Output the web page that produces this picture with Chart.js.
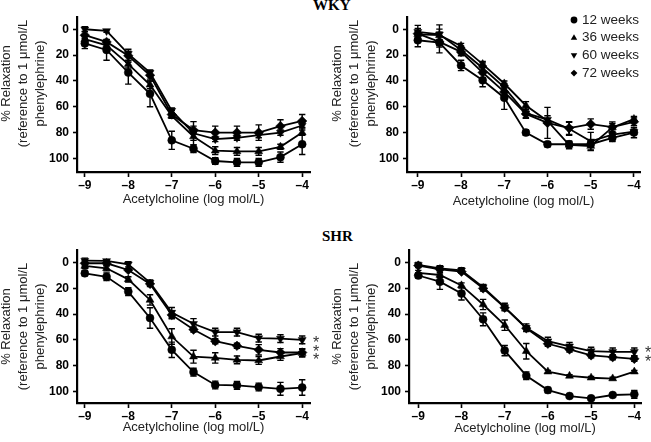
<!DOCTYPE html>
<html>
<head>
<meta charset="utf-8">
<script src="https://cdn.jsdelivr.net/npm/chart.js@4.4.1/dist/chart.umd.min.js"></script>
<style>
  html, body { margin: 0; padding: 0; background: #fff; }
  #wrap { position: relative; width: 651px; height: 442px; overflow: hidden; }
  canvas { position: absolute; }
  .head { position: absolute; font: bold 15px "Liberation Serif", "Times New Roman", serif; line-height: 15px; color: #000; }
</style>
</head>
<body>
<div id="wrap">
  <div class="head" style="left:313px; top:-2px;">WKY</div>
  <div class="head" style="left:322px; top:229px;">SHR</div>
  <canvas id="wkyA" width="325" height="220" style="left:0; top:0;"></canvas>
  <canvas id="wkyB" width="326" height="220" style="left:325px; top:0;"></canvas>
  <canvas id="shrA" width="325" height="222" style="left:0; top:220px;"></canvas>
  <canvas id="shrB" width="326" height="222" style="left:325px; top:220px;"></canvas>
</div>
<script>
// acetylcholine concentrations (log mol/L)
const logAch = [-9, -8.5, -8, -7.5, -7, -6.5, -6, -5.5, -5, -4.5, -4];
const xTicks = [-9, -8, -7, -6, -5, -4];
const yTicks = [0, 20, 40, 60, 80, 100];
const ages = ['12 weeks', '36 weeks', '60 weeks', '72 weeks'];

// WKY, left panel (% relaxation, mean and error)
const wkyA_12 = [11, 16, 33.5, 50, 86, 92.5, 102, 103, 103, 99, 89];
const wkyA_36 = [7.7, 12.4, 27, 43, 67, 83, 94, 94.5, 94.5, 91, 80];
const wkyA_60 = [0, 1.3, 19, 33.5, 63, 80.5, 85, 84, 82, 80, 74.5];
const wkyA_72 = [4.6, 9.8, 20.5, 35.6, 66, 78, 80, 80, 80, 75, 71];
const wkyA_e12 = [4, 8, 9, 10, 7, 3, 2.5, 3, 3, 4, 8];
const wkyA_e36 = [2, 2, 3, 3, 2, 3, 3, 3, 3, 2, 2];
const wkyA_e60 = [2, 1, 2, 2, 2, 9, 2, 2, 2, 2, 2];
const wkyA_e72 = [3, 2, 5, 3, 3, 3, 5, 5, 6, 5, 5];

// WKY, right panel
const wkyB_12 = [8.5, 10.3, 28, 39.5, 53, 80, 89, 89, 89, 84, 80];
const wkyB_36 = [3.9, 4.6, 12.9, 27, 42, 59, 71, 89.5, 90.4, 76, 69.5];
const wkyB_60 = [2, 3.9, 16, 30, 45, 65, 70, 77, 86.8, 81.6, 79.3];
const wkyB_72 = [3.4, 9.8, 17.5, 33.5, 48.5, 65.5, 72.5, 76.5, 73.4, 75.7, 71.6];
const wkyB_e12 = [5, 8, 4, 5, 9, 2, 2, 2, 2, 3, 4];
const wkyB_e36 = [2, 8, 2, 2, 2, 3, 2, 3, 3, 3, 2];
const wkyB_e60 = [5, 4, 3, 4, 3, 4, 3, 5, 7, 5, 2];
const wkyB_e72 = [4, 4, 3, 4, 3, 3, 12, 5, 4, 4, 3];

// SHR, left panel
const shrA_12 = [8.3, 11, 22.5, 43, 67.7, 85, 95, 95.3, 96.6, 98, 97];
const shrA_36 = [2.6, 4.4, 13, 29, 57.4, 73, 74, 75.5, 76, 72.9, 70.3];
const shrA_60 = [-1.5, -1.3, 1.3, 15.5, 38.8, 47.5, 54, 54, 58.6, 59, 60];
const shrA_72 = [0.5, 0.5, 5.7, 16.5, 40.6, 52, 61, 64.6, 67.7, 69.8, 69.8];
const shrA_e12 = [2, 3, 3, 8, 6, 3, 3, 3, 3, 5, 6];
const shrA_e36 = [2, 2, 2, 4, 6, 5, 4, 3, 3, 3, 3];
const shrA_e60 = [2, 1, 2, 2, 4, 4, 3, 3, 3, 3, 3];
const shrA_e72 = [2, 2, 1, 2, 3, 2, 2, 2, 4, 3, 3];
const shrA_stars = [59.5, 66.5, 72.5];

// SHR, right panel
const shrB_12 = [10, 14.8, 24, 44, 68.3, 87.8, 99, 103.6, 105.4, 102.8, 102.3];
const shrB_36 = [8, 9.6, 17.7, 32.5, 48.6, 68.8, 84.7, 88, 89.4, 90, 84.7];
const shrB_60 = [1.8, 4.4, 6, 19, 34.5, 50.6, 61, 65, 68.7, 69.3, 69.3];
const shrB_72 = [2.3, 5.2, 7, 20, 35, 51, 63, 67.4, 72, 73.4, 74.7];
const shrB_e12 = [2, 6, 5, 5, 4, 3, 2, 1, 1, 1, 3];
const shrB_e36 = [2, 2, 2, 4, 4, 6, 1, 1, 1, 1, 1];
const shrB_e60 = [2, 2, 2, 2, 3, 3, 3, 3, 3, 3, 3];
const shrB_e72 = [1, 1, 1, 2, 2, 2, 2, 2, 2, 2, 2];
const shrB_stars = [67, 74];
const starX = -3.68;

const FONT = "'Liberation Sans', Arial, Helvetica, sans-serif";
const markers = [
  { style: 'circle', rot: 0, r: 4 },
  { style: 'triangle', rot: 0, r: 4.6 },
  { style: 'triangle', rot: 180, r: 4.6 },
  { style: 'rectRot', rot: 0, r: 4.8 }
];
const yTitle = ['% Relaxation', '(reference to 1 \u03bcmol/L', 'phenylephrine)'];

function drawMarker(ctx, m, x, y, r) {
  ctx.beginPath();
  if (m.style === 'circle') {
    ctx.arc(x, y, r, 0, Math.PI * 2);
  } else if (m.style === 'triangle') {
    const s = m.rot ? -1 : 1;
    ctx.moveTo(x, y - s * r);
    ctx.lineTo(x + r * 0.95, y + s * r * 0.6);
    ctx.lineTo(x - r * 0.95, y + s * r * 0.6);
    ctx.closePath();
  } else {
    ctx.moveTo(x, y - r); ctx.lineTo(x + r, y); ctx.lineTo(x, y + r); ctx.lineTo(x - r, y);
    ctx.closePath();
  }
  ctx.fill();
}

const errorBars = {
  id: 'errorBars',
  beforeDatasetsDraw(chart) {
    const ctx = chart.ctx, ys = chart.scales.y;
    ctx.save();
    ctx.strokeStyle = '#000';
    ctx.lineWidth = 1.4;
    chart.data.datasets.forEach((ds, i) => {
      chart.getDatasetMeta(i).data.forEach((pt, j) => {
        const e = ds.errors[j];
        if (!e) return;
        const v = ds.data[j].y;
        const y1 = ys.getPixelForValue(v - e), y2 = ys.getPixelForValue(v + e);
        ctx.beginPath();
        ctx.moveTo(pt.x, y1); ctx.lineTo(pt.x, y2);
        ctx.moveTo(pt.x - 3.2, y1); ctx.lineTo(pt.x + 3.2, y1);
        ctx.moveTo(pt.x - 3.2, y2); ctx.lineTo(pt.x + 3.2, y2);
        ctx.stroke();
      });
    });
    ctx.restore();
  }
};

// three-line rotated y title, drawn by hand so it can sit a bit off-centre
function yTitlePlugin(lay) {
  return {
    id: 'yTitle',
    afterDraw(chart) {
      const { ctx, chartArea } = chart;
      const cy = (chartArea.top + chartArea.bottom) / 2 + lay.titleShift;
      ctx.save();
      ctx.font = '13px ' + FONT;
      ctx.fillStyle = '#222';
      ctx.textAlign = 'center';
      ctx.textBaseline = 'middle';
      yTitle.forEach((t, i) => {
        ctx.save();
        ctx.translate(lay.titleX + i * 17, cy);
        ctx.rotate(-Math.PI / 2);
        ctx.fillText(t, 0, 0);
        ctx.restore();
      });
      ctx.restore();
    }
  };
}

function ageKey() {
  return {
    id: 'ageKey',
    afterDraw(chart) {
      const { ctx, chartArea } = chart;
      ctx.save();
      ctx.font = '13.5px ' + FONT;
      ctx.textBaseline = 'middle';
      ages.forEach((a, i) => {
        const x = chartArea.right - 66, y = chartArea.top + 3 + i * 17.7;
        ctx.fillStyle = '#000';
        drawMarker(ctx, markers[i], x, y, 3.4);
        ctx.fillStyle = '#222';
        ctx.fillText(a, x + 8, y);
      });
      ctx.restore();
    }
  };
}

function starMarks(vals) {
  return {
    id: 'starMarks',
    afterDraw(chart) {
      const { ctx } = chart, xs = chart.scales.x, ys = chart.scales.y;
      ctx.save();
      ctx.font = '16px ' + FONT;
      ctx.textAlign = 'center';
      ctx.textBaseline = 'alphabetic';
      ctx.fillStyle = '#333';
      vals.forEach(v => ctx.fillText('*', xs.getPixelForValue(starX), ys.getPixelForValue(v) + 9));
      ctx.restore();
    }
  };
}

function makePanel(id, series, errors, lay, extra) {
  const datasets = series.map((vals, i) => ({
    label: ages[i],
    data: logAch.map((x, j) => ({ x, y: vals[j] })),
    errors: errors[i],
    borderColor: '#000',
    backgroundColor: '#000',
    borderWidth: 1.8,
    pointStyle: markers[i].style,
    pointRotation: markers[i].rot,
    pointRadius: markers[i].r,
    pointHoverRadius: markers[i].r,
    pointBorderWidth: 0.5,
    tension: 0,
    fill: false,
    clip: false
  }));
  const tickFont = { family: FONT, size: 12, weight: 'bold' };
  new Chart(document.getElementById(id), {
    type: 'line',
    data: { datasets },
    options: {
      responsive: false,
      animation: false,
      events: [],
      layout: { padding: { top: lay.top, right: lay.right, left: 0, bottom: 0 } },
      plugins: { legend: { display: false }, tooltip: { enabled: false } },
      scales: {
        x: {
          type: 'linear', min: lay.xMin, max: lay.xMax,
          afterBuildTicks: s => { s.ticks = xTicks.map(v => ({ value: v })); },
          ticks: { font: tickFont, color: '#000', padding: 1, maxRotation: 0, autoSkip: false,
                   callback: v => (v < 0 ? '\u2013' + Math.abs(v) : String(v)) },
          grid: { drawOnChartArea: false, tickLength: 5, tickWidth: 1.6, tickColor: '#000' },
          border: { color: '#000', width: 2.2 },
          title: { display: true, text: 'Acetylcholine (log mol/L)', color: '#222',
                   font: { family: FONT, size: 13, lineHeight: 1.2 }, padding: { top: 0, bottom: lay.xTitlePad } },
          afterFit: s => { s.height = lay.xh; }
        },
        y: {
          type: 'linear', reverse: true, min: lay.yMin, max: lay.yMax,
          afterBuildTicks: s => { s.ticks = yTicks.map(v => ({ value: v })); },
          ticks: { font: tickFont, color: '#000', padding: 4, callback: v => String(v) },
          grid: { drawOnChartArea: false, tickLength: 4, tickWidth: 1.6, tickColor: '#000' },
          border: { color: '#000', width: 2.2 },
          title: { display: false },
          afterFit: s => { s.width = lay.left; }
        }
      }
    },
    plugins: [errorBars, yTitlePlugin(lay)].concat(extra || [])
  });
}

makePanel('wkyA', [wkyA_12, wkyA_36, wkyA_60, wkyA_72], [wkyA_e12, wkyA_e36, wkyA_e60, wkyA_e72],
  { left: 77, top: 17, right: 15, xh: 48, xMin: -9.18, xMax: -3.82, yMin: -9.5, yMax: 110.5,
    xTitlePad: 12.5, titleX: 6, titleShift: -11 });
makePanel('wkyB', [wkyB_12, wkyB_36, wkyB_60, wkyB_72], [wkyB_e12, wkyB_e36, wkyB_e60, wkyB_e72],
  { left: 82, top: 17, right: 11, xh: 48, xMin: -9.25, xMax: -3.86, yMin: -9.5, yMax: 110.5,
    xTitlePad: 11, titleX: 12, titleShift: -11 },
  [ageKey()]);
makePanel('shrA', [shrA_12, shrA_36, shrA_60, shrA_72], [shrA_e12, shrA_e36, shrA_e60, shrA_e72],
  { left: 77, top: 30, right: 15, xh: 39, xMin: -9.18, xMax: -3.82, yMin: -9.8, yMax: 109,
    xTitlePad: 7, titleX: 6, titleShift: 0 },
  [starMarks(shrA_stars)]);
makePanel('shrB', [shrB_12, shrB_36, shrB_60, shrB_72], [shrB_e12, shrB_e36, shrB_e60, shrB_e72],
  { left: 84, top: 30, right: 10, xh: 39, xMin: -9.215, xMax: -3.845, yMin: -9.8, yMax: 109,
    xTitlePad: 6, titleX: 12, titleShift: 0 },
  [starMarks(shrB_stars)]);
</script>
</body>
</html>
